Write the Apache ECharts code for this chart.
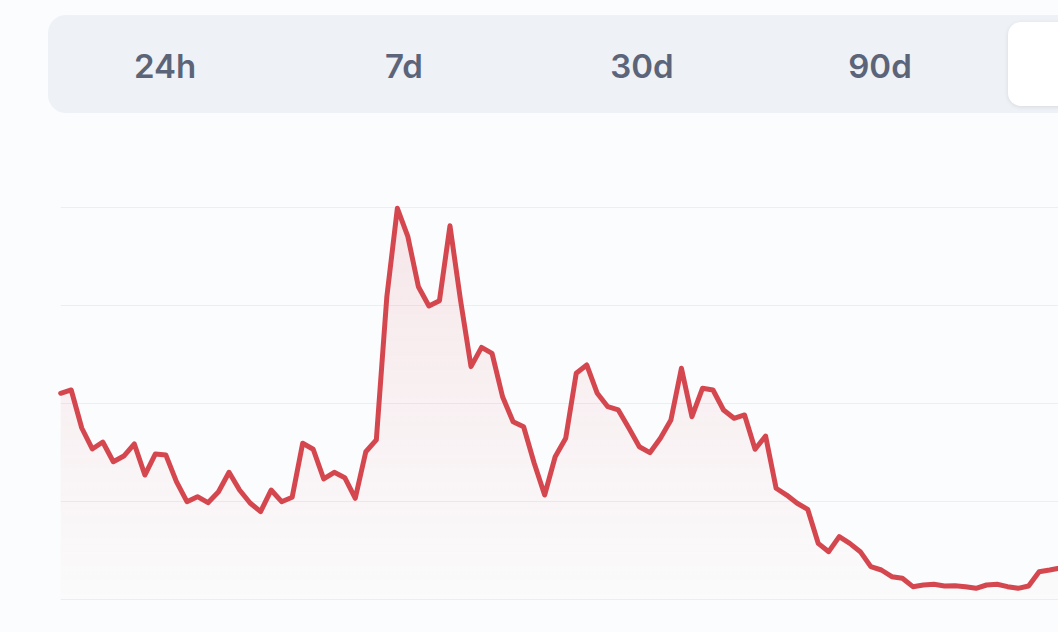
<!DOCTYPE html>
<html>
<head>
<meta charset="utf-8">
<script src="https://cdn.jsdelivr.net/npm/echarts@6/dist/echarts.min.js"></script>
<style>
  html, body { margin: 0; padding: 0; width: 1058px; height: 632px; overflow: hidden; background: #fbfcfd; }
  #tabs { position: absolute; left: 48px; top: 15px; width: 1240px; height: 98px; background: #eef1f5; border-radius: 18px; }
  .tab { position: absolute; top: 2px; height: 98px; line-height: 98px; width: 220px; text-align: center;
         font-family: Inter, "Noto Sans", sans-serif; font-weight: 600; font-size: 33px; color: #5b6479; }
  .tab.active { top: 7px; height: 84px; line-height: 84px; background: #ffffff; border-radius: 13px;
                box-shadow: 0 1px 4px rgba(20,30,50,0.10); color: #1f2937; }
  #chart { position: absolute; left: 0; top: 0; width: 1100px; height: 632px; }
</style>
</head>
<body>
<div id="tabs"></div>
<div id="chart"></div>
<script>
const tabLabels = ["24h", "7d", "30d", "90d", "1y"];
const tabCenters = [117, 356, 594, 832, 1070];
const activeTab = 4;

const values = [
  210.4, 213.8, 175.0, 153.6, 160.7, 140.6, 146.4, 158.7, 127.0, 148.5,
  147.4, 120.2, 99.8, 104.9, 98.8, 110.0, 129.8, 111.7, 98.5, 89.6,
  111.7, 99.8, 104.3, 159.4, 153.3, 123.0, 129.8, 124.3, 103.3, 150.8,
  162.8, 309.0, 399.2, 370.2, 319.2, 299.5, 304.9, 381.4, 305.6, 237.6,
  257.3, 251.2, 206.9, 181.4, 176.3, 139.3, 106.6, 145.7, 164.5, 230.8,
  239.3, 210.4, 196.7, 193.4, 175.0, 155.9, 149.8, 164.5, 183.2, 235.9,
  186.5, 215.5, 213.8, 193.4, 184.9, 188.3, 153.3, 166.8, 113.5, 106.6,
  98.2, 92.0, 57.3, 48.8, 64.1, 57.3, 48.8, 33.5, 30.1, 23.3,
  21.6, 13.1, 14.8, 15.5, 13.8, 14.1, 13.1, 11.4, 14.8, 15.5,
  13.1, 11.4, 13.8, 28.4, 30.1, 32.1, 33.0
];
const categories = values.map((_, i) => String(i));

const yMin = 0, yMax = 400, yInterval = 100;

// tabs
const tabsEl = document.getElementById('tabs');
tabLabels.forEach((t, i) => {
  const d = document.createElement('div');
  d.className = 'tab' + (i === activeTab ? ' active' : '');
  d.textContent = t;
  d.style.left = (tabCenters[i] - 110) + 'px';
  tabsEl.appendChild(d);
});

const chart = echarts.init(document.getElementById('chart'), null, { renderer: 'canvas' });
chart.setOption({
  animation: false,
  grid: { left: 60.7, right: 29.3, top: 207.5, bottom: 32.5 },
  xAxis: {
    type: 'category',
    data: categories,
    boundaryGap: false,
    axisLine: { show: false },
    axisTick: { show: false },
    axisLabel: { show: false },
    splitLine: { show: false }
  },
  yAxis: {
    type: 'value',
    min: yMin, max: yMax, interval: yInterval,
    axisLine: { show: false },
    axisTick: { show: false },
    axisLabel: { show: false },
    splitLine: { show: true, lineStyle: { color: '#eceef2', width: 1.2 } }
  },
  series: [{
    type: 'line',
    data: values,
    symbol: 'none',
    smooth: false,
    lineStyle: { color: '#d5474f', width: 5, join: 'round', cap: 'round' },
    areaStyle: {
      color: new echarts.graphic.LinearGradient(0, 0, 0, 1, [
        { offset: 0, color: 'rgba(214,72,82,0.17)' },
        { offset: 1, color: 'rgba(214,72,82,0.01)' }
      ])
    }
  }]
});
</script>
</body>
</html>
